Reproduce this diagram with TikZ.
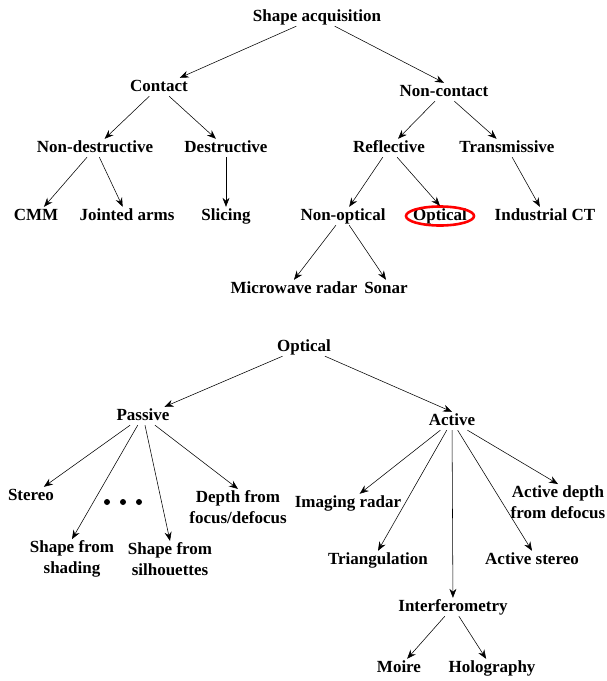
\documentclass[tikz,border=0pt]{standalone}
\usepackage{fontspec}
\setmainfont{Liberation Serif}
\usetikzlibrary{arrows.meta}

\begin{document}
\begin{tikzpicture}[
                x=1pt, y=-1pt,
                every node/.style={font=\fontsize{17}{20.5}\selectfont\bfseries},
                leaf/.style={
                    inner sep=1.5pt, text height=11.5pt, text depth=3.5pt
                },
                twoline/.style={
                    inner sep=1.5pt, align=center
                },
                arr/.style={
                    -{Stealth[length=9pt, width=7pt, inset=3pt]}, line width=0.55pt
                }
            ]
            \useasboundingbox (0, 0) rectangle (606, 681);

            % shape acquisition tree
            \node[leaf] (sa) at (317, 17) {Shape acquisition};
            \node[leaf] (con) at (159, 87) {Contact};
            \node[leaf] (ncon) at (444, 92) {Non-contact};
            \node[leaf] (ndes) at (95, 148) {Non-destructive};
            \node[leaf] (des) at (226, 148) {Destructive};
            \node[leaf] (refl) at (389, 148) {Reflective};
            \node[leaf] (trans) at (507, 148) {Transmissive};
            \node[leaf] (cmm) at (36, 216) {CMM};
            \node[leaf] (arms) at (127, 216) {Jointed arms};
            \node[leaf] (slic) at (226, 216) {Slicing};
            \node[leaf] (nopt) at (343, 216) {Non-optical};
            \node[leaf] (opt) at (440, 216) {Optical};
            \node[leaf] (indct) at (545, 216) {Industrial CT};
            \node[leaf] (mwr) at (294, 289) {Microwave radar};
            \node[leaf] (sonar) at (386, 289) {Sonar};
            \draw[red, line width=2.6pt] (opt) ellipse [x radius=34pt, y radius=9.5pt];

            % edges
            \draw[arr] (sa) -- (con);
            \draw[arr] (sa) -- (ncon.north);
            \draw[arr] (con) -- (ndes);
            \draw[arr] (con) -- (des);
            \draw[arr] (ncon) -- (refl);
            \draw[arr] (ncon) -- (trans);
            \draw[arr] (ndes) -- (cmm);
            \draw[arr] (ndes) -- (arms);
            \draw[arr] (des) -- (slic);
            \draw[arr] (refl) -- (nopt);
            \draw[arr] (refl) -- ([yshift=1pt]opt.north);
            \draw[arr] (trans) -- (indct);
            \draw[arr] (nopt) -- (mwr.north);
            \draw[arr] (nopt) -- (sonar.north);

            % optical tree
            \node[leaf] (optb) at (304, 347) {Optical};
            \node[leaf] (pas) at (143, 416) {Passive};
            \node[leaf] (act) at (452, 421) {Active};
            \node[leaf] (ster) at (31, 496) {Stereo};
            \node[twoline] (dfd) at (238, 507) {Depth from\\focus/defocus};
            \node[twoline] (shad) at (72, 559) {Shape from\\shading};
            \node[twoline] (silh) at (170, 559) {Shape from\\silhouettes};
            \node[leaf] (imr) at (348, 503) {Imaging radar};
            \node[twoline] (adfd) at (558, 502) {Active depth\\from defocus};
            \node[leaf] (tri) at (378, 560) {Triangulation};
            \node[leaf] (ast) at (532, 560) {Active stereo};
            \node[leaf] (intf) at (453, 607) {Interferometry};
            \node[leaf] (moire) at (399, 668) {Moire};
            \node[leaf] (holo) at (492, 668) {Holography};
            \foreach \x in {107, 123, 139}
                \fill (\x, 502) circle (3pt);

            % edges
            \draw[arr] (optb) -- (pas);
            \draw[arr] (optb) -- (act.north);
            \draw[arr] (pas) -- (ster);
            \draw[arr] (pas) -- (shad.north);
            \draw[arr] (pas) -- (silh.north);
            \draw[arr] (pas) -- (dfd.north);
            \draw[arr] (act) -- (imr);
            \draw[arr] (act) -- (tri.north);
            \draw[arr] (act) -- (intf);
            \draw[arr] (act) -- (ast.north);
            \draw[arr] (act) -- (adfd.north);
            \draw[arr] (intf) -- (moire);
            \draw[arr] (intf) -- (holo);
            \end{tikzpicture}
\end{document}
